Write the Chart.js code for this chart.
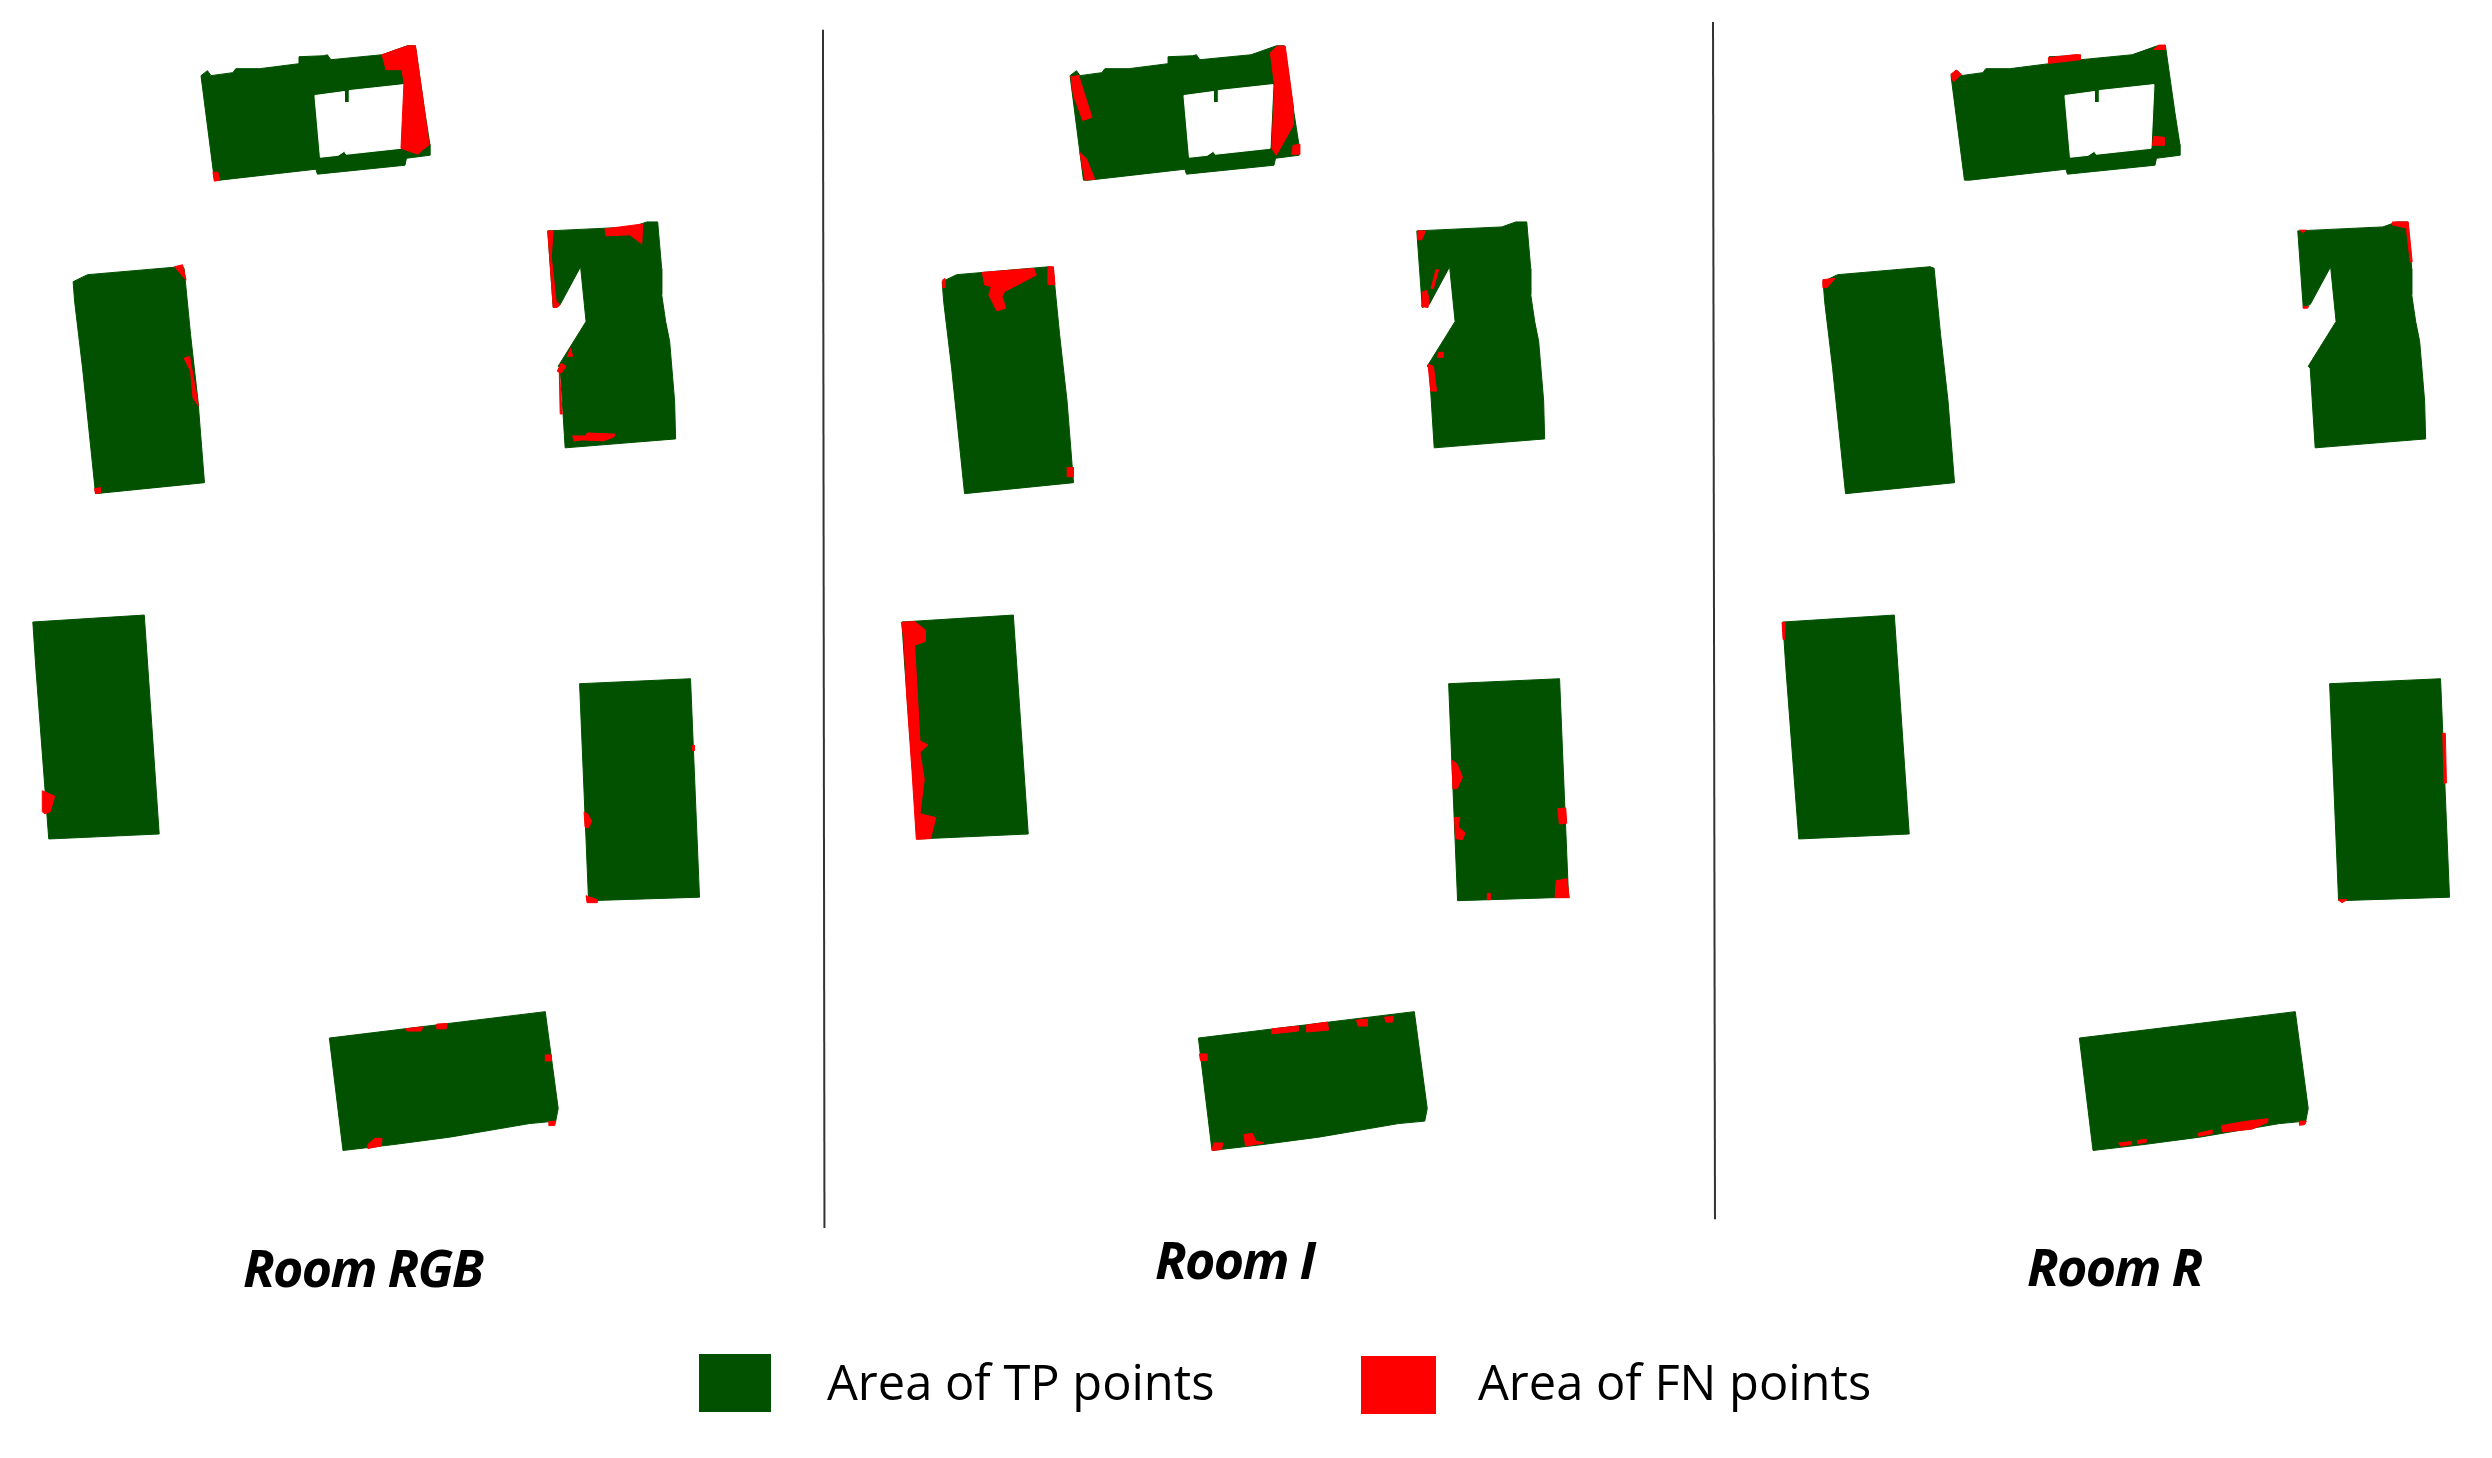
<!DOCTYPE html>
<html>
<head>
<meta charset="utf-8">
<script src="https://cdn.jsdelivr.net/npm/chart.js@4"></script>
<style>
  html, body { margin: 0; padding: 0; background: #fff; }
  #wrap { position: relative; width: 2492px; height: 1458px; overflow: hidden; }
  canvas { position: absolute; left: 0; top: 0; }
  .room { position: absolute; font: italic bold 52px "Open Sans"; letter-spacing: -1.7px; color: #000; line-height: 60px; white-space: nowrap; }
  .key { position: absolute; font: 48.8px "Open Sans"; color: #000; line-height: 60px; white-space: nowrap; }
  .swatch { position: absolute; }
</style>
</head>
<body>
<div id="wrap">
  <canvas id="myChart" width="2492" height="1458"></canvas>
  <div class="room" style="left:243px;top:1237px">Room RGB</div>
  <div class="room" style="left:1155px;top:1229px">Room I</div>
  <div class="room" style="left:2027px;top:1236px">Room R</div>
  <div class="swatch" style="left:699px;top:1354px;width:72px;height:58px;background:#015101"></div>
  <div class="key" style="left:827px;top:1351px">Area of TP points</div>
  <div class="swatch" style="left:1361px;top:1356px;width:75px;height:58px;background:#ff0000"></div>
  <div class="key" style="left:1478px;top:1351px">Area of FN points</div>
</div>
<script>
// outlines of the six objects
let roomTop = [[202,73],[208.5,68],[212,73],[234,70],[237,66],[261,66],[300.5,61],[300.5,54],[325.5,53],[329,52],[332.5,57],[384,52],[409.5,43],[417.5,43],[427,110],[432,142],[432,153],[408.5,156],[407,163],[319,172],[317.5,167],[221,178],[215.5,178]];
let roomTopHole = [[316.5,93],[346,89],[346,100],[351,100],[351,88],[406,82],[403,146],[348,152],[346,149],[340,153],[322,155]];
let roomRight = [[550.5,229],[636,225],[650,220],[661,220],[665,267],[665,293],[669,320],[673,340],[678,400],[679,438],[568,447],[563,367],[561,365],[589,320],[583.5,265],[563,303],[556,306]];
let roomLeft = [[73.5,280],[88,273],[181,265],[185,266.5],[191.5,333],[199,400],[205.5,482],[96,493],[83,367],[75,300]];
let roomLowerLeft = [[33,622],[145,615],[160,835],[49,840],[36,668]];
let roomLowerRight = [[582.5,684],[694,679],[703,898.5],[591.5,902]];
let roomBottom = [[331,1040],[548,1013.5],[561,1110.8],[558.5,1123.5],[532,1126],[452,1139.6],[396,1147],[344.7,1153]];
let panelShift = [0, 873.4, 1758.8];
let fnShift = [0, 4.2, 8.3];

// FN areas per panel
let fnRGB = [
  [[384,52],[409.5,43],[417.5,43],[427,110],[430,133],[431,143],[425.5,147],[420,152],[403,146],[406,80],[404,67],[388,67]],
  [[214,170],[219,170],[221,178],[215.5,179]],
  [[550.5,229],[556,229],[554,255],[559,300],[563,303],[560,306],[556,306]],
  [[608,227],[646,222],[645,242],[633,233],[609,234]],
  [[564,362],[569,365],[564,372],[560,370]],
  [[573.5,347],[575.5,355],[570,355]],
  [[575.5,435],[588,435],[590.5,432],[612,433],[618,433],[617,436],[606.5,440],[585,439],[577,440]],
  [[562,367],[565,413],[563,413]],
  [[175.5,265],[183.5,263],[187,278.5]],
  [[185,357],[190.5,355],[199.5,405],[194,397],[191.5,370]],
  [[95,488],[101,487],[101,492],[96,493]],
  [[42.5,791.5],[55,797],[50.5,812.7],[45,814.6],[42.5,812.7]],
  [[587,813],[590.5,814.6],[594.7,822],[591.5,829],[588,828]],
  [[589,897],[600,901],[600,904],[590,904]],
  [[696,746],[698,746],[698,751],[696,751]],
  [[407,1030.8],[425.5,1028.8],[423,1033],[409.5,1033]],
  [[439,1026],[449.5,1025.4],[448.5,1030.8],[439,1030.8]],
  [[548,1057],[554,1057],[554,1063],[548,1063]],
  [[551.6,1124],[558.5,1123.5],[557.4,1128],[551.6,1128]],
  [[369.7,1147],[376.6,1140.8],[384,1140.8],[383,1148.5],[369.7,1151]]
];
let fnI = [
  [[1272.5,50],[1279.5,43.3],[1287.5,43.3],[1295.5,103],[1295.5,123],[1282,147],[1278.4,153],[1274,146],[1276.8,83]],
  [[1295.4,143],[1302,142],[1302,152],[1294,152]],
  [[1072,74],[1080,73],[1085.3,90],[1093.3,115],[1084,118],[1074.7,93]],
  [[1081,150],[1088,157],[1096,177],[1086.4,178]],
  [[983,270.7],[1034.8,266.7],[1037.4,273.3],[1005.5,290],[1003,295],[1006.6,306.7],[997.6,309.3],[989.6,293.3],[992.2,285],[985.3,283.3]],
  [[1049,265],[1054.5,265],[1056,283],[1049,283]],
  [[1068.3,466.7],[1074.7,466.7],[1074.7,476],[1068.3,476]],
  [[943.3,278],[945.4,277],[945.4,286],[942.8,286]],
  [[1420.4,229],[1428.4,229],[1424.7,238],[1420.4,238]],
  [[1424.7,305],[1425.7,290],[1430,289],[1432,298],[1431,306]],
  [[1439,268],[1441.7,268],[1436.4,287],[1434,287]],
  [[1441.7,351],[1446,351],[1446,356],[1440.6,356]],
  [[1431,363],[1436.4,365],[1439.6,390],[1433.7,390]],
  [[901.8,622.3],[915,621.5],[925.7,630],[925.7,641.5],[915,645.4],[917.8,695.4],[920.4,741.5],[928.4,745.4],[920.4,753],[924.7,780],[920.4,814.6],[936.4,818.5],[931,839.6],[916.7,840.4],[912.4,772.3],[907,695.4],[904.5,641.5]],
  [[1455,760.8],[1460.3,764.6],[1465.6,778],[1460.3,789.6],[1456,789.6]],
  [[1457.7,818.5],[1463,818.5],[1461.4,828],[1468.3,833.8],[1465.6,840.8],[1458.7,839.6]],
  [[1561.4,809.6],[1569.4,808.8],[1570.4,824.2],[1563,825]],
  [[1559.8,882],[1570.4,880],[1573,899],[1558.7,899]],
  [[1490.6,894.6],[1493.3,894.6],[1493.3,901],[1490.6,901]],
  [[1274,1030.8],[1300.7,1028],[1300.7,1033],[1274,1035.8]],
  [[1308.7,1027],[1330,1024],[1331,1032],[1308.7,1034]],
  [[1359,1022],[1370,1021],[1370,1028],[1360.9,1028]],
  [[1387.4,1019],[1396.5,1018.5],[1395.4,1024],[1388.5,1024]],
  [[1201.3,1056],[1208.7,1056],[1208.7,1062.7],[1202.3,1062.7]],
  [[1215.6,1145.4],[1224.7,1145.4],[1223.6,1152],[1214,1153]],
  [[1246,1137],[1254.5,1135.8],[1258,1143.5],[1266,1145.4],[1247.6,1148.5]]
];
let fnR = [
  [[2050.4,55],[2068,53],[2076,52],[2082.4,52],[2082.4,57],[2050.4,60.7]],
  [[2156,46.7],[2161.3,42.3],[2168,42.3],[2167.7,46.7]],
  [[2156,134],[2166.7,135],[2166.7,143],[2155,143]],
  [[1952.3,71.7],[1957.6,67.3],[1963,71.7],[1955,79.3]],
  [[1823.7,278],[1836,276.7],[1828,286],[1823.7,286]],
  [[2396,220],[2412,220],[2416,260],[2414,260],[2410,226],[2396,223]],
  [[2302.7,228.3],[2309.6,228.3],[2306.4,230.7]],
  [[2306.4,305],[2312,305],[2310.7,306.7],[2306.4,306.7]],
  [[2121,1145.5],[2133.6,1144],[2133.6,1147],[2123,1148.6]],
  [[2140,1143],[2148.5,1141.7],[2148.5,1144.7],[2140,1146.3]],
  [[2201,1135.6],[2214.7,1132.5],[2214.7,1136.3],[2201,1138.6]],
  [[2224.3,1128],[2246.7,1124],[2270.7,1121],[2270.7,1124.8],[2254.7,1131.7],[2225.3,1134.4]],
  [[2302.7,1123.5],[2309.6,1123.5],[2308,1127],[2302.7,1127.7]],
  [[1782.7,622.3],[1785.9,622.3],[1785.3,639.6],[1783.7,639.6]],
  [[2446.7,733.8],[2449.3,733.8],[2450.4,783.8],[2448,783.8]],
  [[2341.6,901],[2350.7,901],[2345.3,904]]
];
let dividers = [[[827.1,27],[828.6,1231]], [[1721.6,19],[1723.6,1222]]];

let green = '#015101', red = '#ff0000';

function shape(pts, dx, color, order) {
  let data = pts.concat([pts[0]]).map(p => ({x: p[0] + dx, y: p[1]}));
  return {data: data, showLine: true, fill: 'shape', backgroundColor: color, borderColor: color,
    borderWidth: 1, pointRadius: 0, tension: 0, order: order};
}

let datasets = [];
panelShift.forEach(dx => {
  [roomTop, roomRight, roomLeft, roomLowerLeft, roomLowerRight, roomBottom].forEach(r => datasets.push(shape(r, dx, green, 3)));
  datasets.push(shape(roomTopHole, dx, '#ffffff', 2));
});
[fnRGB, fnI, fnR].forEach((list, i) => list.forEach(f => datasets.push(shape(f, fnShift[i], red, 1))));
dividers.forEach(d => datasets.push({data: d.map(p => ({x: p[0], y: p[1]})), showLine: true, borderColor: '#333333',
  borderWidth: 2, pointRadius: 0, fill: false, order: 0}));

let ctx = document.getElementById('myChart').getContext('2d');
let myChart = new Chart(ctx, {
  type: 'scatter',
  data: {datasets: datasets},
  options: {
    responsive: false,
    animation: false,
    devicePixelRatio: 1,
    layout: {padding: 0},
    plugins: {legend: {display: false}, tooltip: {enabled: false}},
    scales: {
      x: {type: 'linear', min: 0, max: 2504.5, display: false},
      y: {type: 'linear', min: -3, max: 1462, reverse: true, display: false}
    }
  }
});
</script>
</body>
</html>
